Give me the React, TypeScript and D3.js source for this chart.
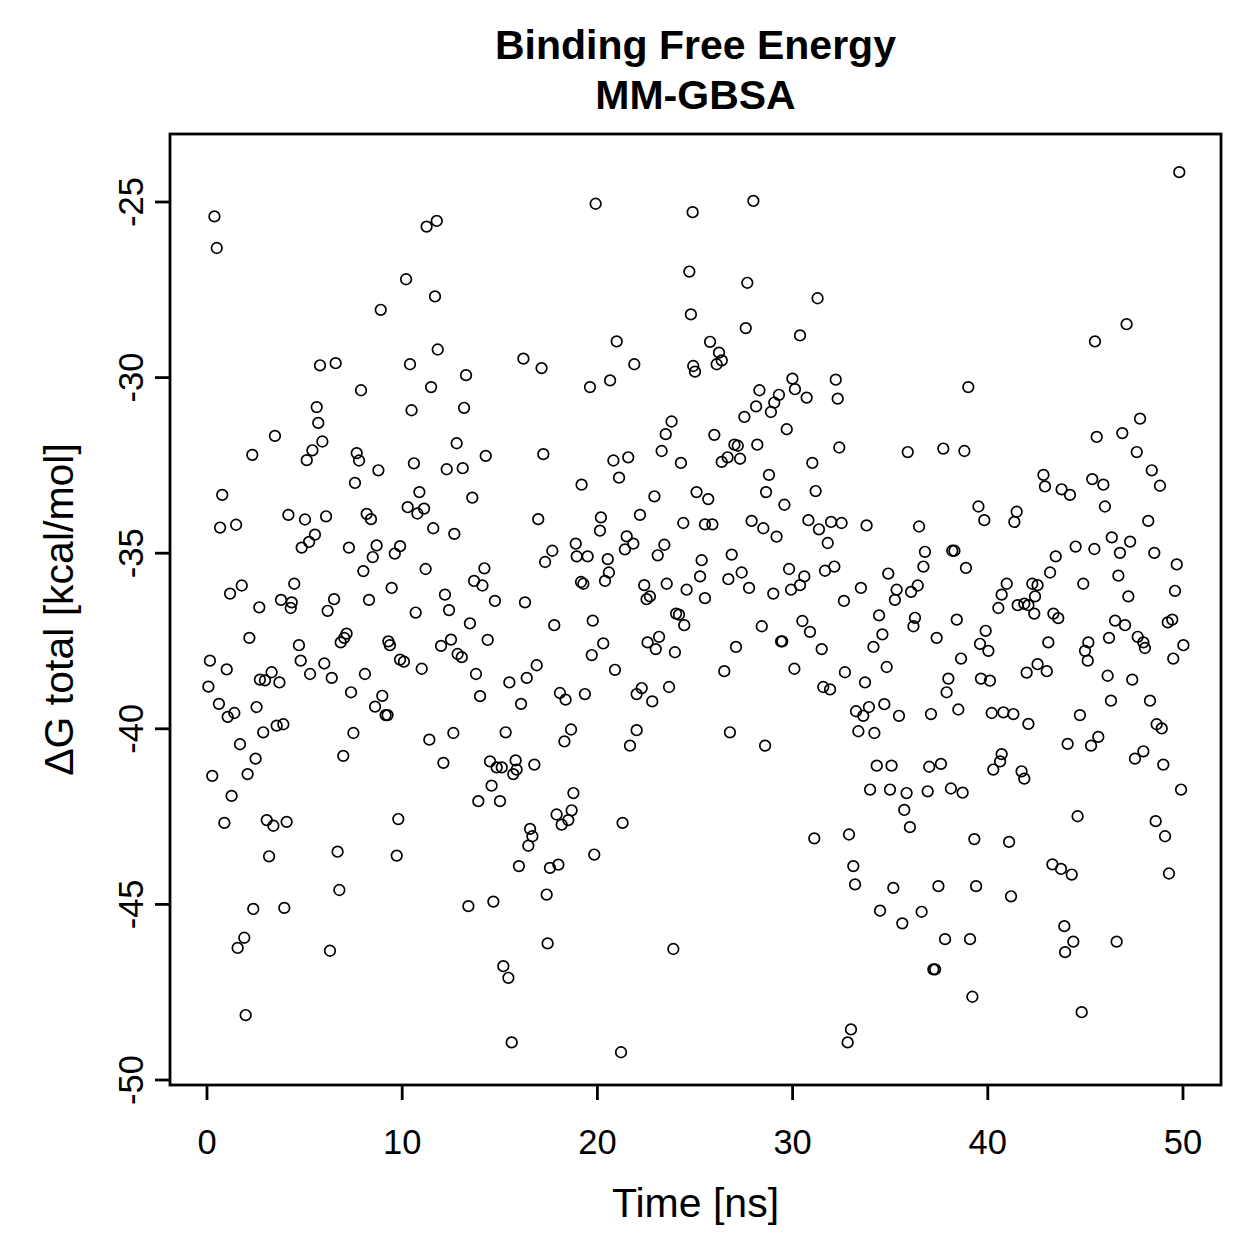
import React from "react";
import * as d3 from "d3";

// Simulation time of each frame (ns)
const timeNs: number[] = [
  0.38, 0.5, 3.48, 2.32, 0.78, 0.67, 1.49, 4.17, 1.18, 1.78, 2.68, 3.79, 4.34, 4.29, 4.47, 2.17, 0.15, 1.01, 0.07, 0.61,
  1.06, 1.4, 2.71, 2.97, 3.31, 3.71, 2.54, 2.88, 3.57, 3.91, 1.69, 2.49, 2.08, 0.27, 1.26, 0.89, 3.06, 3.4, 4.08, 3.18,
  2.37, 3.96, 1.91, 1.57, 1.98,
  8.9, 5.79, 6.59, 7.89, 5.62, 5.7, 5.91, 5.4, 5.11, 7.67, 7.79, 8.78, 7.58, 5.02, 6.1, 8.18, 8.4, 5.53, 5.23, 4.85,
  7.27, 8.69, 8.49, 9.62, 8.01, 9.46, 6.51, 6.18, 8.3, 7.15, 7.03, 6.85, 9.29, 9.37, 4.71, 4.8, 5.28, 6.01, 6.39, 8.09,
  7.38, 8.98, 8.61, 9.15, 9.25, 7.5, 6.98, 6.69, 6.78, 6.3,
  11.25, 11.77, 10.2, 11.68, 11.82, 10.4, 13.27, 11.48, 10.48, 13.17, 12.79, 10.6, 12.28, 13.1, 14.28, 10.88, 10.28, 10.78, 11.12, 13.59,
  11.59, 12.67, 9.89, 11.2, 13.68, 14.11, 14.21, 12.19, 12.4, 10.69, 14.75, 13.47, 14.38, 12.5, 11.99, 12.84, 13.05, 9.89, 10.09, 11.0,
  13.78, 13.99, 11.39, 12.62, 12.11, 14.5, 14.84, 14.58, 13.9, 9.8, 9.72, 13.39, 14.67,
  19.91, 16.21, 17.14, 19.62, 17.23, 19.19, 16.97, 17.69, 17.32, 18.89, 18.94, 19.5, 19.16, 19.28, 16.29, 17.79, 19.76, 19.71, 16.89, 16.38,
  15.49, 16.09, 18.08, 18.37, 19.36, 15.3, 18.65, 18.31, 15.1, 15.81, 15.69, 15.86, 16.77, 15.01, 18.77, 18.68, 17.91, 16.55, 16.67, 16.46,
  18.51, 18.17, 15.98, 17.57, 18.0, 19.84, 17.4, 17.45, 15.18, 15.44, 15.61,
  24.88, 24.71, 24.79, 20.99, 21.89, 20.65, 24.91, 25.0, 23.8, 23.5, 23.29, 24.28, 20.82, 21.58, 21.11, 22.92, 25.08, 22.18, 24.4, 20.18,
  20.13, 21.5, 21.84, 21.41, 23.43, 23.09, 20.53, 20.59, 20.39, 22.4, 22.52, 22.69, 23.55, 24.57, 24.03, 24.18, 24.45, 20.3, 22.57, 23.16,
  22.99, 23.97, 20.9, 22.01, 22.27, 22.81, 23.67, 22.01, 21.67, 21.29, 23.89, 21.21,
  27.99, 27.68, 27.6, 25.77, 26.23, 26.11, 26.37, 29.99, 30.12, 28.3, 28.13, 27.53, 29.3, 29.06, 28.89, 29.7, 25.99, 27.02, 27.19, 26.67,
  26.37, 27.31, 28.19, 28.79, 28.64, 29.58, 25.68, 25.51, 25.89, 27.9, 28.5, 29.18, 25.34, 25.26, 25.51, 26.88, 26.71, 27.39, 27.77, 29.01,
  29.82, 29.92, 28.42, 29.41, 29.47, 27.1, 26.5, 30.09, 26.79, 28.59,
  31.28, 30.38, 32.21, 32.31, 30.72, 32.39, 31.01, 31.18, 30.81, 31.35, 31.97, 32.51, 31.8, 33.79, 31.66, 32.14, 30.6, 30.38, 33.5, 32.63,
  34.9, 35.33, 35.24, 30.5, 30.89, 31.49, 34.43, 34.6, 34.14, 32.68, 34.82, 33.71, 31.57, 31.92, 33.25, 33.62, 33.91, 34.7, 33.37, 34.19,
  34.31, 35.07, 33.97, 34.99, 31.11, 32.89, 33.11, 33.2, 35.16, 34.48, 32.99, 32.82,
  39.0, 35.9, 37.72, 38.8, 39.52, 39.82, 36.48, 36.78, 36.7, 38.18, 38.29, 38.88, 36.07, 36.41, 36.27, 36.19, 38.41, 37.38, 38.63, 39.89,
  39.6, 40.03, 39.65, 40.11, 37.98, 37.89, 35.45, 37.09, 38.49, 40.2, 37.0, 37.6, 40.28, 35.84, 36.92, 38.11, 38.71, 35.72, 36.01, 39.31,
  37.47, 39.4, 36.61, 35.62, 37.81, 39.09, 37.21, 37.3, 39.21,
  45.49, 45.58, 42.85, 42.93, 43.78, 44.21, 45.35, 41.48, 41.36, 44.5, 45.46, 43.48, 43.19, 44.89, 40.97, 40.71, 40.54, 42.28, 42.55, 42.42,
  42.38, 41.53, 41.87, 42.08, 43.36, 43.61, 43.1, 45.15, 44.98, 45.12, 41.99, 42.55, 43.02, 40.8, 41.31, 42.08, 44.72, 44.09, 45.29, 45.66,
  40.71, 40.63, 41.73, 41.87, 44.6, 41.09, 43.31, 43.75, 44.3, 41.19, 43.92, 44.38, 43.96, 44.81,
  49.81, 47.11, 47.8, 46.89, 47.63, 48.4, 48.82, 45.92, 46.0, 48.22, 46.35, 46.77, 47.29, 48.53, 49.68, 46.69, 49.59, 47.2, 46.52, 47.03,
  46.21, 47.68, 47.97, 48.05, 49.22, 49.45, 50.02, 49.5, 46.14, 47.4, 46.31, 48.31, 48.65, 48.91, 47.97, 47.54, 48.99, 49.9, 48.6, 49.08,
  49.28, 46.6,
];

// Total binding free energy of each frame (kcal/mol)
const deltaG: number[] = [
  -25.41, -26.31, -31.66, -32.2, -33.34, -34.27, -34.19, -33.91, -36.15, -35.92, -36.54, -36.33, -36.4, -36.56, -35.87, -37.41, -38.06, -38.31, -38.8, -39.29,
  -39.66, -39.55, -38.6, -38.62, -38.39, -38.68, -39.38, -40.1, -39.91, -39.87, -40.44, -40.85, -41.29, -41.34, -41.91, -42.68, -42.6, -42.76, -42.65, -43.63,
  -45.13, -45.1, -45.95, -46.24, -48.15,
  -28.07, -29.65, -29.59, -30.36, -30.84, -31.29, -31.82, -32.07, -32.35, -32.15, -32.36, -32.64, -33.0, -34.04, -33.95, -33.88, -34.03, -34.47, -34.68, -34.84,
  -34.84, -34.78, -35.11, -35.01, -35.51, -35.99, -36.31, -36.64, -36.33, -37.29, -37.41, -37.54, -37.51, -37.62, -37.62, -38.06, -38.44, -38.14, -38.55, -38.44,
  -38.96, -39.06, -39.37, -39.61, -39.61, -40.12, -40.77, -43.5, -44.59, -46.32,
  -25.7, -25.54, -27.2, -27.69, -29.2, -29.62, -29.93, -30.27, -30.93, -30.86, -31.87, -32.44, -32.61, -32.58, -32.23, -33.26, -33.69, -33.87, -33.73, -33.42,
  -34.29, -34.45, -34.8, -35.45, -35.79, -35.92, -35.43, -36.18, -36.62, -36.69, -36.36, -37.0, -37.47, -37.46, -37.64, -37.87, -37.96, -38.03, -38.09, -38.29,
  -38.44, -39.07, -40.31, -40.12, -40.97, -40.93, -41.1, -41.62, -42.06, -42.57, -43.61, -45.05, -44.92,
  -25.05, -29.46, -29.73, -30.27, -32.18, -33.05, -34.03, -34.93, -35.25, -34.73, -35.09, -35.09, -35.82, -35.87, -36.4, -37.05, -36.92, -37.9, -38.19, -38.55,
  -38.68, -39.29, -38.98, -39.17, -39.01, -40.1, -40.02, -40.36, -41.1, -40.9, -41.29, -41.16, -41.02, -42.06, -41.83, -42.32, -42.44, -42.85, -43.06, -43.33,
  -42.6, -42.73, -43.91, -43.96, -43.87, -43.58, -44.72, -46.11, -46.76, -47.09, -48.93,
  -25.29, -26.98, -28.2, -28.97, -29.62, -30.08, -29.67, -29.83, -31.25, -31.61, -32.09, -32.43, -32.36, -32.27, -32.85, -33.38, -33.26, -33.91, -34.14, -33.98,
  -34.36, -34.52, -34.73, -34.89, -34.76, -35.06, -35.17, -35.55, -35.79, -35.91, -36.31, -36.23, -35.87, -36.04, -36.72, -36.75, -37.05, -37.57, -37.54, -37.38,
  -37.73, -37.82, -38.32, -39.01, -38.84, -39.22, -38.81, -40.04, -40.48, -42.68, -46.27, -49.21,
  -24.97, -27.3, -28.59, -28.98, -29.29, -29.62, -29.51, -30.03, -30.33, -30.36, -30.82, -31.12, -30.49, -30.71, -30.98, -31.47, -31.63, -31.91, -31.94, -32.27,
  -32.4, -32.31, -31.91, -32.77, -33.26, -33.62, -33.46, -34.18, -34.18, -34.08, -34.29, -34.53, -35.2, -35.66, -36.28, -35.04, -35.74, -35.55, -35.99, -36.15,
  -35.45, -36.04, -37.08, -37.51, -37.51, -37.67, -38.36, -38.29, -40.1, -40.48,
  -27.74, -28.8, -30.06, -30.6, -30.57, -31.99, -32.43, -33.23, -34.06, -34.32, -34.11, -34.14, -34.71, -34.21, -35.5, -35.38, -35.66, -35.91, -35.99, -36.36,
  -35.58, -36.04, -36.33, -36.93, -37.24, -37.73, -36.77, -37.31, -37.67, -38.39, -38.24, -38.68, -38.81, -38.88, -39.5, -39.63, -39.38, -39.3, -40.07, -40.12,
  -41.05, -41.05, -41.73, -41.73, -43.12, -43.01, -43.91, -44.43, -44.53, -45.18, -48.56, -48.93,
  -30.27, -32.12, -32.02, -32.09, -33.67, -34.06, -34.24, -34.96, -35.38, -34.93, -34.93, -35.42, -36.1, -35.92, -36.84, -37.08, -36.89, -37.41, -38.0, -37.21,
  -37.58, -37.78, -38.57, -38.63, -38.57, -38.96, -39.63, -39.58, -39.45, -39.55, -41.08, -41.0, -41.16, -41.83, -41.78, -41.7, -41.82, -42.31, -42.8, -43.14,
  -44.48, -44.48, -45.21, -45.54, -45.99, -45.99, -46.85, -46.85, -47.63,
  -28.97, -31.69, -32.77, -33.1, -33.18, -33.34, -32.89, -33.82, -34.11, -34.81, -34.88, -35.09, -35.55, -35.87, -35.87, -36.18, -36.56, -35.87, -35.91, -36.23,
  -36.72, -36.48, -36.44, -36.48, -36.72, -36.85, -37.54, -37.54, -37.78, -38.06, -38.4, -38.16, -38.36, -39.53, -39.58, -39.86, -39.61, -40.43, -40.48, -40.23,
  -40.72, -40.93, -41.21, -41.42, -42.49, -43.22, -43.86, -43.99, -44.15, -44.77, -45.62, -46.06, -46.36, -48.07,
  -24.15, -28.48, -31.17, -31.58, -32.12, -32.64, -33.08, -33.05, -33.67, -34.08, -34.55, -34.99, -34.67, -34.99, -35.32, -35.64, -36.07, -36.23, -36.92, -37.05,
  -37.41, -37.38, -37.54, -37.7, -36.97, -36.89, -37.62, -38.0, -38.49, -38.6, -39.2, -39.2, -39.87, -39.99, -40.64, -40.85, -41.02, -41.73, -42.63, -43.06,
  -44.12, -46.06,
];

const xTicks: number[] = [0, 10, 20, 30, 40, 50];
const yTicks: number[] = [-25, -30, -35, -40, -45, -50];

const titleLines: string[] = ["Binding Free Energy", "MM-GBSA"];
const xLabel = "Time [ns]";
const yLabel = "ΔG total [kcal/mol]";

const W = 1259;
const H = 1259;
const box = { left: 170, right: 1221, top: 134, bottom: 1085 };
const FONT = "'Liberation Sans', Arial, Helvetica, sans-serif";

export default function App() {
  const x = d3.scaleLinear().domain([0, 50]).range([207, 1183]);
  const y = d3.scaleLinear().domain([-50, -25]).range([1080, 202]);
  const points = timeNs.map((t, i) => ({ t, g: deltaG[i] }));
  const midX = (box.left + box.right) / 2;
  const midY = (box.top + box.bottom) / 2;

  return (
    <svg
      width={W}
      height={H}
      viewBox={`0 0 ${W} ${H}`}
      style={{ position: "absolute", left: 0, top: 0, background: "#fff" }}
      fontFamily={FONT}
    >
      <rect x={0} y={0} width={W} height={H} fill="#fff" />

      {/* title */}
      <text x={midX} y={59} textAnchor="middle" fontSize={41} fontWeight="bold" fill="#000">
        {titleLines[0]}
      </text>
      <text x={midX} y={109} textAnchor="middle" fontSize={41} fontWeight="bold" fill="#000">
        {titleLines[1]}
      </text>

      {/* points */}
      <g fill="none" stroke="#000" strokeWidth={1.7}>
        {points.map((p, i) => (
          <circle key={i} cx={x(p.t)} cy={y(p.g)} r={5.3} />
        ))}
      </g>

      {/* plot frame */}
      <rect
        x={box.left}
        y={box.top}
        width={box.right - box.left}
        height={box.bottom - box.top}
        fill="none"
        stroke="#000"
        strokeWidth={2.8}
      />

      {/* x axis */}
      <g stroke="#000" strokeWidth={2.8}>
        {xTicks.map((t) => (
          <line key={t} x1={x(t)} x2={x(t)} y1={box.bottom} y2={box.bottom + 15} />
        ))}
      </g>
      {xTicks.map((t) => (
        <text key={t} x={x(t)} y={1154} textAnchor="middle" fontSize={34.5} fill="#000">
          {t}
        </text>
      ))}
      <text x={midX} y={1217} textAnchor="middle" fontSize={41} fill="#000">
        {xLabel}
      </text>

      {/* y axis */}
      <g stroke="#000" strokeWidth={2.8}>
        {yTicks.map((v) => (
          <line key={v} x1={box.left - 15} x2={box.left} y1={y(v)} y2={y(v)} />
        ))}
      </g>
      {yTicks.map((v) => (
        <text
          key={v}
          transform={`translate(143,${y(v)}) rotate(-90)`}
          textAnchor="middle"
          fontSize={34.5}
          fill="#000"
        >
          {v}
        </text>
      ))}
      <text
        transform={`translate(73,${midY}) rotate(-90)`}
        textAnchor="middle"
        fontSize={41}
        fill="#000"
      >
        {yLabel}
      </text>
    </svg>
  );
}
